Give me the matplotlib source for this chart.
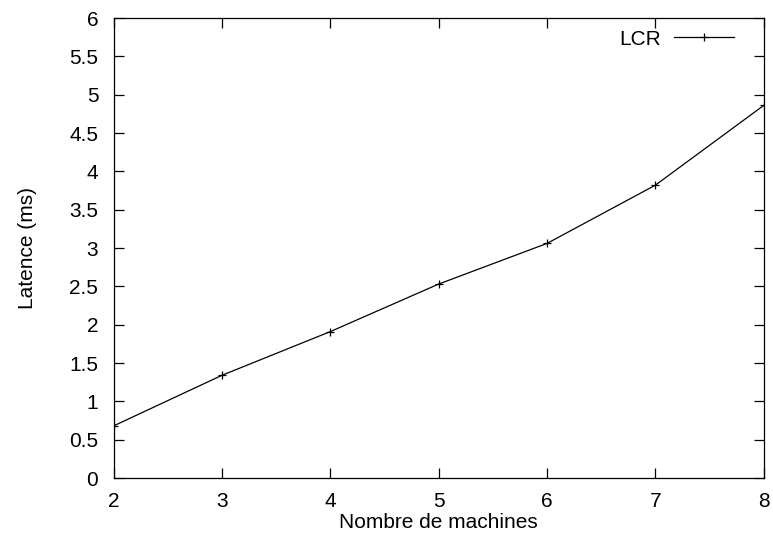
import matplotlib
matplotlib.use("Agg")
import matplotlib.pyplot as plt

plt.rcParams["font.family"] = ["Liberation Sans", "DejaVu Sans"]

machines = [2, 3, 4, 5, 6, 7, 8]
latence = [0.68, 1.34, 1.91, 2.53, 3.06, 3.82, 4.86]

fig = plt.figure(figsize=(7.73, 5.46), dpi=100)
ax = fig.add_axes([0.147, 0.1245, 0.841, 0.8425])

ax.plot(machines, latence, color="black", linewidth=0.9, marker="+",
        markersize=5.5, markeredgewidth=0.9, label="LCR")

ax.set_xlim(2, 8)
ax.set_ylim(0, 6)
ax.set_xticks(machines)
ax.set_yticks([i * 0.5 for i in range(13)])
ax.set_yticklabels(["0", "0.5", "1", "1.5", "2", "2.5", "3", "3.5", "4", "4.5", "5", "5.5", "6"])
ax.tick_params(direction="in", top=True, right=True, length=7, width=0.9,
               labelsize=15)
ax.tick_params(axis="x", pad=10)
ax.tick_params(axis="y", pad=11)
for s in ax.spines.values():
    s.set_linewidth(0.9)

ax.set_xlabel("Nombre de machines", fontsize=15, labelpad=1.5)
ax.set_ylabel("Latence (ms)", fontsize=15, labelpad=23.5)

ax.legend(loc="upper right", frameon=False, fontsize=15, markerfirst=False,
          handlelength=2.9, handletextpad=0.63, borderaxespad=0.3,
          bbox_to_anchor=(0.977, 1.0065))

fig.savefig("out.png", dpi=100)
